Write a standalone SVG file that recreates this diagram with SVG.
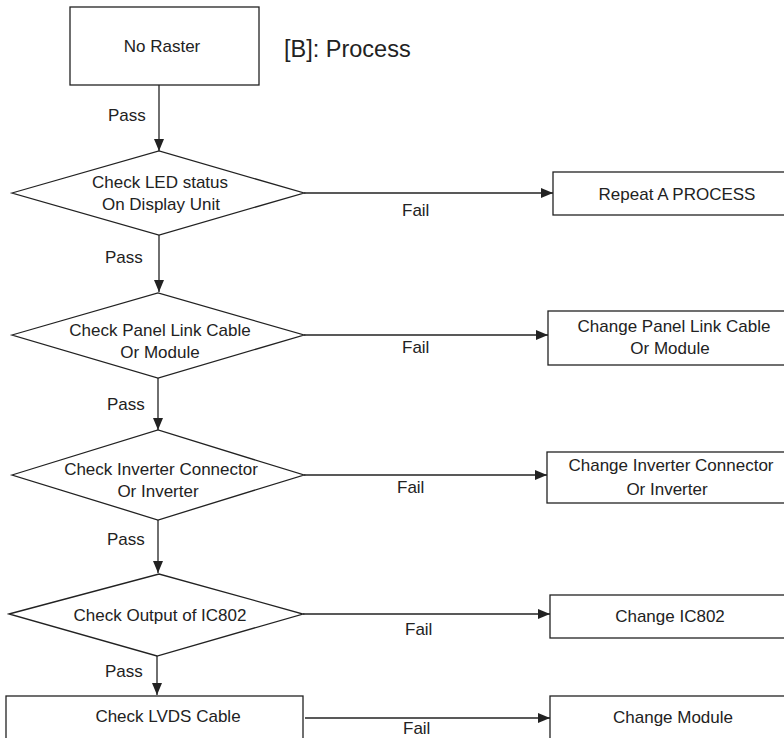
<svg xmlns="http://www.w3.org/2000/svg" width="784" height="738" viewBox="0 0 784 738">
<defs>
<marker id="arr" markerUnits="userSpaceOnUse" markerWidth="13" markerHeight="11" refX="12" refY="5" orient="auto">
<path d="M0,0 L12,5 L0,10 z" fill="#222"/>
</marker>
<style>
.n{fill:#fff;stroke:#222;stroke-width:1.3}
.t{font-family:"Liberation Sans",Arial,sans-serif;font-size:17px;fill:#222;text-anchor:middle}
.l{font-family:"Liberation Sans",Arial,sans-serif;font-size:17px;fill:#222}
.c{stroke:#222;stroke-width:1.3;fill:none;marker-end:url(#arr)}
</style>
</defs>
<rect width="784" height="738" fill="#fff"/>
<g id="connectors">
<line class="c" x1="159" y1="85" x2="159" y2="151"/>
<line class="c" x1="304" y1="193" x2="553" y2="193"/>
<line class="c" x1="159" y1="235" x2="159" y2="292"/>
<line class="c" x1="304" y1="335" x2="548" y2="335"/>
<line class="c" x1="158" y1="378" x2="158" y2="430"/>
<line class="c" x1="304" y1="475" x2="547" y2="475"/>
<line class="c" x1="158" y1="520" x2="158" y2="573"/>
<line class="c" x1="303" y1="614" x2="550" y2="614"/>
<line class="c" x1="157" y1="656" x2="157" y2="695"/>
<line class="c" x1="305" y1="718" x2="550" y2="718"/>
<text class="l" x="108" y="121">Pass</text>
<text class="l" x="402" y="216">Fail</text>
<text class="l" x="105" y="263">Pass</text>
<text class="l" x="402" y="353">Fail</text>
<text class="l" x="107" y="410">Pass</text>
<text class="l" x="397" y="493">Fail</text>
<text class="l" x="107" y="545">Pass</text>
<text class="l" x="405" y="635">Fail</text>
<text class="l" x="105" y="677">Pass</text>
<text class="l" x="403" y="734">Fail</text>
</g>
<g id="title">
<text x="284" y="57" style="font-family:'Liberation Sans',Arial,sans-serif;font-size:23.5px;fill:#222">[B]: Process</text>
</g>
<g id="start">
<rect class="n" x="70" y="7" width="189" height="78"/>
<text class="t" x="162" y="52">No Raster</text>
</g>
<g id="d1">
<polygon class="n" points="12,193 159,151 304,193 159,235"/>
<text class="t" x="160" y="188">Check LED status</text>
<text class="t" x="161" y="210">On Display Unit</text>
</g>
<g id="r1">
<rect class="n" x="553" y="172" width="240" height="43"/>
<text class="t" x="677" y="200">Repeat A PROCESS</text>
</g>
<g id="d2">
<polygon class="n" points="12,335 158,293 304,335 158,378"/>
<text class="t" x="160" y="336">Check Panel Link Cable</text>
<text class="t" x="160" y="358">Or Module</text>
</g>
<g id="r2">
<rect class="n" x="548" y="311" width="245" height="54"/>
<text class="t" x="674" y="332">Change Panel Link Cable</text>
<text class="t" x="670" y="354">Or Module</text>
</g>
<g id="d3">
<polygon class="n" points="12,475 158,430 304,475 158,520"/>
<text class="t" x="161" y="475">Check Inverter Connector</text>
<text class="t" x="158" y="497">Or Inverter</text>
</g>
<g id="r3">
<rect class="n" x="547" y="452" width="246" height="51"/>
<text class="t" x="671" y="471">Change Inverter Connector</text>
<text class="t" x="667" y="495">Or Inverter</text>
</g>
<g id="d4">
<polygon class="n" points="9,614 159,574 303,614 157,656"/>
<text class="t" x="160" y="621">Check Output of IC802</text>
</g>
<g id="r4">
<rect class="n" x="550" y="595" width="243" height="43"/>
<text class="t" x="670" y="622">Change IC802</text>
</g>
<g id="b5">
<rect class="n" x="6" y="696" width="297" height="60"/>
<text class="t" x="168" y="722">Check LVDS Cable</text>
</g>
<g id="r5">
<rect class="n" x="550" y="696" width="243" height="60"/>
<text class="t" x="673" y="723">Change Module</text>
</g>
</svg>
